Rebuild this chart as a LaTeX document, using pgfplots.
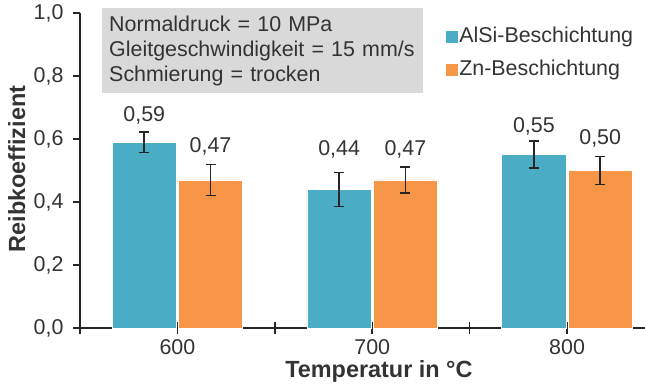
\documentclass[border=0pt]{standalone}
\usepackage{pgfplots}
\pgfplotsset{compat=1.18}
\usepackage{pgfplotstable}
\usepackage{fontspec}
\setmainfont{Liberation Sans}
\definecolor{barblue}{HTML}{4BACC6}
\definecolor{barorange}{HTML}{F79646}
\definecolor{textgray}{HTML}{333333}
\definecolor{axisgray}{HTML}{262626}
\definecolor{boxgray}{HTML}{D9D9D9}
\pgfplotstableread{
x y err ly lab
0 0.59 0.033 0.654 {0,59}
1 0.44 0.054 0.549 {0,44}
2 0.55 0.043 0.622 {0,55}
}\alsi
\pgfplotstableread{
x y err ly lab
0 0.47 0.049 0.556 {0,47}
1 0.47 0.041 0.549 {0,47}
2 0.50 0.045 0.581 {0,50}
}\zn
\begin{document}
\begin{tikzpicture}
\useasboundingbox (-80bp,-57bp) rectangle (565bp,328bp);
\begin{axis}[
  scale only axis,
  width=565bp, height=315bp,
  xmin=-0.5, xmax=2.4,
  ymin=0, ymax=1.0,
  ybar=2bp, bar width=0.33,
  axis x line=bottom, axis y line=left,
  axis line style={-, line width=2.2bp, color=axisgray},
  font=\fontsize{21.5}{25}\selectfont,
  /pgf/number format/assume math mode=true,
  xtick={-0.5,0.5,1.5}, xticklabels={},
  x tick style={line width=1.5bp, color=axisgray},
  extra x ticks={0,1,2}, extra x tick labels={600,700,800},
  extra x tick style={major tick length=0bp},
  ytick={0,0.2,0.4,0.6,0.8,1.0},
  yticklabels={{0,0},{0,2},{0,4},{0,6},{0,8},{1,0}},
  y tick style={line width=1.5bp, color=axisgray},
  major tick length=7bp,
  x tick style={/pgfplots/major tick length=12bp},
  xtick align=center, ytick align=outside,
  ticklabel style={text=textgray},
  yticklabel style={xshift=-6bp},
  xticklabel style={yshift=-8bp},
  xlabel={\bfseries Temperatur in °C},
  ylabel={\bfseries Reibkoeffizient},
  label style={font=\fontsize{23.5}{28}\selectfont, text=textgray},
  xlabel style={at={(axis description cs:0.529,-0.156)}, anchor=base},
  ylabel style={at={(axis description cs:-0.097,0.505)}, anchor=base},
  legend image code/.code={\fill[#1, draw=none] (0bp,-6bp) rectangle (12bp,6bp);},
  legend style={at={(rel axis cs:0.648,0.957)}, anchor=north west, draw=none, fill=none,
    inner sep=0pt, row sep=12bp, font=\fontsize{21.5}{25}\selectfont, text=textgray,
    nodes={inner sep=1bp, text height=15bp, text depth=4bp},
    /tikz/every even column/.append style={column sep=4bp}},
  legend cell align=left,
  nodes near coords, point meta=explicit symbolic,
  visualization depends on={\thisrow{ly}-\thisrow{y} \as \dy},
  every node near coord/.append style={anchor=base, inner sep=0pt, text=textgray,
    font=\fontsize{21.5}{25}\selectfont, yshift=\dy*315bp},
  clip=false,
]
\addplot[fill=barblue, draw=white, line width=0.8bp,
  error bars/.cd, y dir=both, y explicit,
  error bar style={line width=1.6bp, color=axisgray},
  error mark options={rotate=90, mark size=5bp, line width=1.6bp, color=axisgray}]
  table[x=x, y=y, y error=err, meta=lab] {\alsi};
\addlegendentry{AlSi-Beschichtung}
\addplot[fill=barorange, draw=white, line width=0.8bp,
  error bars/.cd, y dir=both, y explicit,
  error bar style={line width=1.6bp, color=axisgray},
  error mark options={rotate=90, mark size=5bp, line width=1.6bp, color=axisgray}]
  table[x=x, y=y, y error=err, meta=lab] {\zn};
\addlegendentry{Zn-Beschichtung}
\node[anchor=north west, fill=boxgray, inner xsep=7bp, inner ysep=0bp, minimum height=85bp,
  text width=307bp, align=left, text=textgray, font=\fontsize{21.5}{25}\selectfont]
  at (axis cs:-0.387,1.016) {Normaldruck = 10 MPa\\Gleitgeschwindigkeit = 15 mm/s\\Schmierung = trocken};
\end{axis}
\end{tikzpicture}
\end{document}
